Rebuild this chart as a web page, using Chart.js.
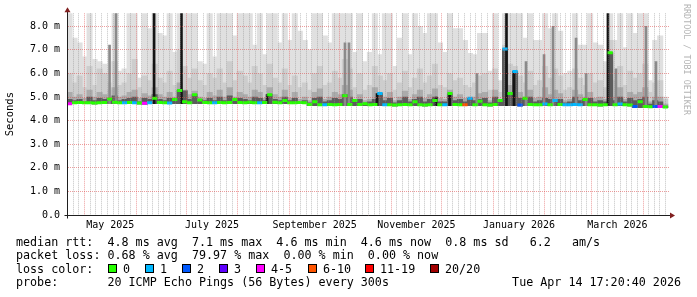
<!DOCTYPE html>
<html>
<head>
<meta charset="utf-8">
<script src="https://cdn.jsdelivr.net/npm/chart.js@4.4.1/dist/chart.umd.min.js"></script>
<style>
  html, body { margin: 0; padding: 0; background: #fff; }
  #wrap { position: relative; width: 697px; height: 297px; overflow: hidden; font-family: 'DejaVu Sans Mono', monospace; color: #000; }
  #graph { position: absolute; left: 0; top: 0; }
  .txt { position: absolute; font-size: 11.7px; line-height: 14px; white-space: pre; }
  .box { position: absolute; width: 9px; height: 9px; box-sizing: border-box; border: 1px solid #000; }
  #stamp { position: absolute; left: 682px; top: 4px; writing-mode: vertical-rl; font-size: 8.4px; line-height: 10px; color: #b4b4b4; white-space: pre; }
</style>
</head>
<body>
<div id="wrap">
  <canvas id="graph" width="697" height="297"></canvas>
  <div id="stamp">RRDTOOL / TOBI OETIKER</div>
  <div class="txt" style="left:16px; top:234.5px">median rtt:  4.8 ms avg  7.1 ms max  4.6 ms min  4.6 ms now  0.8 ms sd   6.2   am/s</div>
  <div class="txt" style="left:16px; top:248px">packet loss: 0.68 % avg  79.97 % max  0.00 % min  0.00 % now</div>
  <div class="txt" id="lossRow" style="left:16px; top:261.5px">loss color:</div>
  <div class="txt" style="left:16px; top:275px">probe:       20 ICMP Echo Pings (56 Bytes) every 300s</div>
  <div class="txt" style="right:16px; top:275px">Tue Apr 14 17:20:40 2026</div>
</div>
<script>
// time axis: days after 1 May 2025, one sample every 3 days
const firstSample = -8.87;
const sampleStep = 3;
const rangeStart = -10.4;
const rangeEnd = 350.4;

// highest ping of each sample (ms)
const pingMax = [
  8.6, 7.5, 7.3, 6.7, 8.6, 6.6, 6.5, 6.4, 5.6, 8.6, 6.1, 6.2, 8.6, 8.6, 5.8, 8.6, 7.9, 8.6, 7.7, 7.6,
  8.6, 6.9, 8.6, 8.6, 8.6, 8.6, 6.5, 6.4, 8.6, 6.7, 8.6, 8.6, 8.6, 7.6, 8.6, 8.6, 8.6, 7.2, 8.6, 6.8,
  8.6, 8.6, 7.3, 8.6, 7.4, 8.6, 7.8, 7.4, 7.0, 8.6, 8.6, 7.6, 7.3, 8.6, 8.6, 8.6, 8.6, 6.9, 8.6, 6.5,
  6.9, 8.6, 6.8, 8.6, 8.6, 6.3, 7.5, 8.6, 6.8, 8.6, 8.0, 7.7, 8.6, 8.6, 7.3, 6.9, 8.6, 7.9, 7.9, 7.4,
  6.85, 6.8, 7.7, 7.7, 6.1, 8.6, 5.7, 8.6, 8.6, 8.6, 8.6, 7.5, 8.6, 7.4, 7.4, 8.6, 7.9, 8.6, 7.8, 6.0,
  6.1, 8.6, 7.2, 7.2, 8.6, 7.3, 7.2, 6.5, 8.6, 7.4, 8.6, 7.1, 8.6, 7.7, 8.6, 8.6, 5.7, 7.4, 7.6, 5.0
];
// upper smoke band
const pingHigh = [
  6.0, 5.6, 5.9, 5.4, 6.3, 5.5, 6.2, 6.0, 5.3, 6.5, 5.5, 5.6, 6.0, 6.6, 5.4, 5.9, 5.7, 6.4, 5.8, 5.6,
  6.1, 5.5, 7.0, 6.3, 5.8, 6.2, 5.7, 5.5, 6.0, 5.8, 6.2, 5.6, 6.5, 5.7, 6.1, 5.9, 5.6, 6.3, 6.0, 5.5,
  6.4, 5.8, 5.6, 6.2, 5.5, 5.9, 5.4, 5.6, 5.3, 6.0, 6.3, 5.5, 5.6, 6.1, 5.8, 6.6, 6.2, 5.4, 6.0, 5.3,
  5.5, 6.3, 5.9, 5.7, 6.0, 5.3, 5.6, 6.1, 5.4, 5.8, 6.2, 5.6, 5.9, 6.4, 5.5, 5.4, 6.0, 5.7, 5.8, 5.5,
  5.4, 5.6, 5.9, 6.0, 5.3, 6.2, 5.2, 7.2, 6.4, 6.3, 5.9, 5.6, 6.1, 5.5, 5.7, 6.3, 5.8, 6.2, 5.9, 5.3,
  5.4, 6.2, 5.8, 5.5, 6.0, 5.6, 5.7, 5.4, 7.4, 5.7, 6.3, 5.5, 6.1, 5.8, 6.0, 6.4, 5.2, 5.6, 5.7, 4.9
];
// lower smoke band
const pingMid = [
  5.2, 5.0, 5.1, 4.95, 5.3, 5.0, 5.2, 5.1, 4.95, 5.4, 5.0, 5.05, 5.2, 5.3, 4.95, 5.15, 5.05, 5.4, 5.1, 5.0,
  5.2, 5.0, 5.6, 5.3, 5.1, 5.25, 5.0, 4.95, 5.2, 5.05, 5.3, 5.0, 5.4, 5.0, 5.2, 5.1, 5.0, 5.3, 5.2, 4.95,
  5.4, 5.1, 5.0, 5.3, 4.95, 5.2, 4.9, 5.0, 4.85, 5.2, 5.35, 4.9, 5.0, 5.2, 5.1, 5.5, 5.3, 4.9, 5.1, 4.85,
  4.9, 5.4, 5.2, 5.0, 5.2, 4.85, 5.0, 5.25, 4.9, 5.1, 5.3, 4.95, 5.1, 5.35, 4.95, 4.9, 5.3, 5.0, 5.1, 4.95,
  4.9, 5.0, 5.15, 5.2, 4.85, 5.3, 4.8, 6.0, 5.5, 5.6, 5.2, 5.0, 5.3, 4.95, 5.0, 5.4, 5.1, 5.3, 5.15, 4.85,
  4.9, 5.3, 5.1, 5.0, 5.2, 4.95, 5.0, 4.9, 6.5, 5.0, 5.4, 4.9, 5.2, 5.1, 5.2, 5.4, 4.8, 5.0, 5.0, 4.7
];
// core of the smoke, next to the median
const pingCore = [
  4.9, 4.85, 4.9, 4.8, 5.0, 4.85, 4.95, 4.9, 4.95, 5.05, 4.85, 4.9, 4.95, 5.0, 4.8, 4.95, 4.9, 5.1, 4.9, 4.85,
  4.95, 4.9, 5.3, 5.26, 4.9, 5.1, 4.9, 4.85, 4.95, 4.85, 5.0, 4.85, 5.05, 4.9, 4.95, 4.9, 4.85, 5.0, 4.95, 4.85,
  5.1, 4.9, 4.85, 5.0, 4.85, 4.95, 4.8, 4.85, 4.75, 4.95, 5.0, 4.8, 4.85, 4.95, 4.9, 5.1, 5.0, 4.85, 4.9, 4.75,
  4.8, 4.9, 5.15, 4.85, 4.95, 4.75, 4.85, 5.0, 4.8, 4.9, 5.0, 4.8, 4.9, 5.0, 4.8, 4.8, 5.15, 4.85, 4.9, 4.8,
  4.95, 4.85, 4.9, 4.95, 4.75, 5.0, 4.85, 7.04, 5.15, 6.08, 4.95, 4.95, 5.0, 4.8, 4.85, 4.95, 4.9, 4.9, 4.9, 4.75,
  4.8, 5.0, 4.85, 4.9, 4.95, 4.8, 4.85, 4.8, 6.88, 4.85, 5.0, 4.8, 4.95, 4.85, 4.9, 5.0, 4.7, 4.85, 4.8, 4.62
];
// lowest ping of each sample
const pingMin = [
  4.72, 4.72, 4.72, 4.72, 4.72, 4.71, 4.72, 4.72, 4.72, 4.72, 4.72, 4.72, 4.72, 4.72, 4.71, 4.70, 4.72, 4.72, 4.72, 4.72,
  4.72, 4.72, 4.72, 4.72, 4.72, 4.72, 4.72, 4.72, 4.72, 4.72, 4.72, 4.72, 4.72, 4.72, 4.72, 4.72, 4.72, 4.72, 4.72, 4.72,
  4.72, 4.72, 4.72, 4.72, 4.72, 4.72, 4.72, 4.72, 4.63, 4.63, 4.63, 4.63, 4.63, 4.63, 4.63, 4.63, 4.63, 4.63, 4.63, 4.63,
  4.63, 4.63, 4.63, 4.63, 4.63, 4.62, 4.63, 4.63, 4.63, 4.63, 4.63, 4.62, 4.63, 4.63, 4.63, 4.63, 4.63, 4.63, 4.63, 4.63,
  4.63, 4.63, 4.63, 4.63, 4.62, 4.63, 4.63, 4.63, 4.63, 4.63, 4.62, 4.63, 4.63, 4.63, 4.63, 4.63, 4.63, 4.63, 4.63, 4.63,
  4.63, 4.63, 4.63, 4.63, 4.63, 4.63, 4.62, 4.63, 4.63, 4.63, 4.63, 4.63, 4.62, 4.55, 4.55, 4.55, 4.55, 4.55, 4.55, 4.55
];
// median rtt (ms)
const median = [
  4.72, 4.76, 4.77, 4.76, 4.76, 4.75, 4.76, 4.77, 4.92, 4.78, 4.76, 4.76, 4.77, 4.76, 4.75, 4.74, 4.76, 4.95, 4.77, 4.76,
  4.75, 4.9, 5.28, 4.8, 4.76, 5.1, 4.88, 4.77, 4.76, 4.76, 4.77, 4.76, 4.77, 4.9, 4.77, 4.76, 4.78, 4.76, 4.76, 4.77,
  5.1, 4.78, 4.76, 4.85, 4.76, 4.76, 4.77, 4.76, 4.68, 4.8, 4.67, 4.67, 4.68, 4.67, 4.68, 5.05, 4.68, 4.85, 4.68, 4.72,
  4.67, 4.68, 5.15, 4.67, 4.67, 4.66, 4.67, 4.68, 4.67, 4.8, 4.67, 4.66, 4.67, 4.85, 4.67, 4.67, 5.15, 4.68, 4.67, 4.67,
  4.95, 4.67, 4.82, 4.67, 4.66, 4.68, 4.85, 7.04, 5.15, 6.08, 4.66, 4.95, 4.68, 4.67, 4.67, 4.7, 4.67, 4.85, 4.68, 4.67,
  4.67, 4.68, 4.67, 4.9, 4.67, 4.67, 4.66, 4.67, 6.88, 4.67, 4.7, 4.67, 4.66, 4.6, 4.8, 4.6, 4.59, 4.6, 4.6, 4.58
];
// lost pings out of 20
const loss = [
  4, 0, 0, 0, 0, 0, 0, 0, 0, 0, 0, 1, 0, 1, 0, 4, 1, 0, 0, 0,
  1, 0, 0, 0, 0, 0, 0, 0, 0, 1, 0, 0, 0, 0, 0, 0, 0, 0, 1, 0,
  0, 0, 0, 0, 0, 0, 0, 0, 0, 0, 0, 1, 0, 0, 0, 0, 0, 0, 0, 0,
  0, 0, 1, 1, 0, 0, 0, 0, 0, 0, 0, 0, 0, 0, 0, 1, 0, 0, 0, 6,
  1, 0, 0, 0, 0, 0, 0, 1, 0, 1, 2, 0, 0, 0, 0, 1, 0, 1, 0, 1,
  1, 1, 1, 0, 0, 0, 0, 0, 0, 0, 1, 0, 0, 2, 0, 0, 0, 2, 4, 0
];
// narrow dense streaks in the smoke
const spikeDays = [15.1, 19.0, 41.8, 58.2, 109.5, 156.2, 158.6, 175.4, 210.8, 218.9, 235.3, 253.0, 257.5, 264.7, 275.5, 280.9, 294.7, 300.7, 313.8, 318.6, 336.6, 342.6];
const spikeTops = [7.2, 8.55, 8.55, 8.55, 5.1, 7.3, 7.3, 5.15, 5.0, 5.2, 6.0, 8.55, 6.1, 6.5, 6.8, 8.0, 7.5, 6.0, 8.55, 6.2, 8.0, 6.5];
const spikeDense = [0, 0, 1, 1, 1, 0, 0, 1, 1, 1, 0, 1, 1, 0, 0, 0, 0, 0, 1, 0, 0, 0];

const lossLabels = ['0', '1', '2', '3', '4-5', '6-10', '11-19', '20/20'];
const lossColors = ['#26ff00', '#00b8ff', '#0059ff', '#5e00ff', '#ff00ff', '#ff5500', '#ff0000', '#a10000'];
const monthNames = ['January', 'February', 'March', 'April', 'May', 'June', 'July', 'August', 'September', 'October', 'November', 'December'];

function lossColor(n) {
  if (n <= 3) return lossColors[n];
  if (n <= 5) return lossColors[4];
  if (n <= 10) return lossColors[5];
  if (n <= 19) return lossColors[6];
  return lossColors[7];
}

// legend boxes
const boxLeft = [108, 145, 182, 219, 256, 308, 365, 430];
const wrap = document.getElementById('wrap');
lossLabels.forEach((lbl, i) => {
  const b = document.createElement('div');
  b.className = 'box';
  b.style.left = boxLeft[i] + 'px';
  b.style.top = '264px';
  b.style.background = lossColors[i];
  wrap.appendChild(b);
  const t = document.createElement('div');
  t.className = 'txt';
  t.style.left = (boxLeft[i] + 15) + 'px';
  t.style.top = '261.5px';
  t.textContent = lbl;
  wrap.appendChild(t);
});

const sampleDays = pingMax.map((_, i) => +(firstSample + i * sampleStep).toFixed(2));

function dayOf(year, month) {
  return (Date.UTC(year, month, 1) - Date.UTC(2025, 4, 1)) / 86400000;
}

// month lines, 8 minor lines per month, a label in the middle of every other month
function buildTimeTicks(scale) {
  const ticks = [];
  for (let m = 3; m <= 15; m++) {
    const start = dayOf(2025, m);
    const len = dayOf(2025, m + 1) - start;
    ticks.push({ value: start, kind: 'major' });
    for (let k = 1; k < 9; k++) ticks.push({ value: start + k * len / 9, kind: 'minor' });
    const mid = start + len / 2;
    const d = new Date(Date.UTC(2025, m, 1));
    if (d.getUTCMonth() % 2 === 0 && mid > scale.min + 10 && mid < scale.max - 10) {
      ticks.push({ value: mid, kind: 'label', label: monthNames[d.getUTCMonth()] + ' ' + d.getUTCFullYear() });
    }
  }
  scale.ticks = ticks.filter(t => t.value > scale.min && t.value < scale.max).sort((a, b) => a.value - b.value);
}

const majorGrid = 'rgba(222, 79, 79, 0.55)';
const minorGrid = 'rgba(143, 143, 143, 0.55)';

function smoke(tops, color, order) {
  return {
    type: 'bar',
    data: sampleDays.map((d, i) => ({ x: d, y: [pingMin[i], tops[i]] })),
    backgroundColor: color,
    barThickness: 5.4,
    grouped: false,
    order: order
  };
}

function baseAt(day) {
  const i = Math.min(pingMin.length - 1, Math.max(0, Math.round((day - firstSample) / sampleStep)));
  return pingMin[i];
}

const axisArrows = {
  id: 'axisArrows',
  afterDraw(chart) {
    const { ctx, chartArea: a } = chart;
    const x0 = Math.round(a.left) + 0.5;
    const y0 = Math.round(a.bottom) + 0.5;
    ctx.save();
    ctx.strokeStyle = '#1f1f1f';
    ctx.lineWidth = 1;
    ctx.beginPath();
    ctx.moveTo(x0 - 3, y0); ctx.lineTo(a.left, y0);
    ctx.moveTo(a.right, y0); ctx.lineTo(a.right + 2, y0);
    ctx.moveTo(x0, y0 + 3); ctx.lineTo(x0, a.bottom);
    ctx.moveTo(x0, a.top); ctx.lineTo(x0, a.top - 2);
    ctx.stroke();
    ctx.fillStyle = '#801f1f';
    ctx.beginPath();
    ctx.moveTo(x0 - 3, a.top - 1); ctx.lineTo(x0 + 3, a.top - 1); ctx.lineTo(x0, a.top - 6); ctx.closePath();
    ctx.fill();
    ctx.beginPath();
    ctx.moveTo(a.right + 1, y0 - 3); ctx.lineTo(a.right + 1, y0 + 3); ctx.lineTo(a.right + 6, y0); ctx.closePath();
    ctx.fill();
    ctx.restore();
  }
};

Chart.defaults.font.family = "'DejaVu Sans Mono', monospace";
Chart.defaults.color = '#000';

new Chart(document.getElementById('graph').getContext('2d'), {
  type: 'bar',
  data: {
    datasets: [
      {
        type: 'line',
        data: sampleDays.map((d, i) => ({ x: d, y: median[i] })),
        showLine: false,
        pointStyle: 'line',
        pointRadius: 2.6,
        pointHoverRadius: 2.6,
        pointBorderWidth: 3,
        pointBorderColor: ctx => lossColor(loss[ctx.dataIndex]),
        order: 0
      },
      {
        type: 'bar',
        data: spikeDays.map((d, i) => ({ x: d, y: [baseAt(d), spikeTops[i]] })),
        backgroundColor: ctx => spikeDense[ctx.dataIndex] ? '#141414' : '#8a8a8a',
        barThickness: 2,
        grouped: false,
        order: 1
      },
      smoke(pingCore, '#5c5c5c', 2),
      smoke(pingMid, '#ababab', 3),
      smoke(pingHigh, '#cdcdcd', 4),
      smoke(pingMax, '#e0e0e0', 5)
    ]
  },
  options: {
    responsive: false,
    animation: false,
    devicePixelRatio: 1,
    layout: { padding: { top: 13.3, right: 28, left: 0, bottom: 0 } },
    plugins: { legend: { display: false }, tooltip: { enabled: false } },
    scales: {
      x: {
        type: 'linear',
        min: rangeStart,
        max: rangeEnd,
        offset: false,
        afterBuildTicks: buildTimeTicks,
        afterFit: s => { s.height = 82; },
        grid: {
          offset: false,
          drawTicks: false,
          z: 1,
          color: ctx => !ctx.tick ? 'transparent' : ctx.tick.kind === 'major' ? majorGrid : ctx.tick.kind === 'minor' ? minorGrid : 'transparent'
        },
        border: { color: '#1f1f1f', width: 1, dash: [1, 1], z: 2 },
        ticks: {
          autoSkip: false,
          maxRotation: 0,
          minRotation: 0,
          padding: 4,
          font: { size: 10 },
          callback: (v, i, ticks) => ticks[i].label || ''
        }
      },
      y: {
        type: 'linear',
        min: 0,
        max: 8.55,
        afterFit: s => { s.width = 67; },
        grid: {
          drawTicks: false,
          z: 1,
          color: ctx => Math.abs(ctx.tick.value - Math.round(ctx.tick.value)) < 1e-6 ? majorGrid : minorGrid
        },
        border: { color: '#1f1f1f', width: 1, dash: [1, 1], z: 2 },
        ticks: {
          stepSize: 0.5,
          includeBounds: false,
          padding: 7,
          font: { size: 10 },
          callback: v => {
            if (Math.abs(v - Math.round(v)) > 1e-6) return '';
            return v === 0 ? '0.0' : v.toFixed(1) + ' m';
          }
        },
        title: { display: true, text: 'Seconds', font: { size: 10.5 }, padding: { top: 4, bottom: 0 } }
      }
    }
  },
  plugins: [axisArrows]
});
</script>
</body>
</html>
